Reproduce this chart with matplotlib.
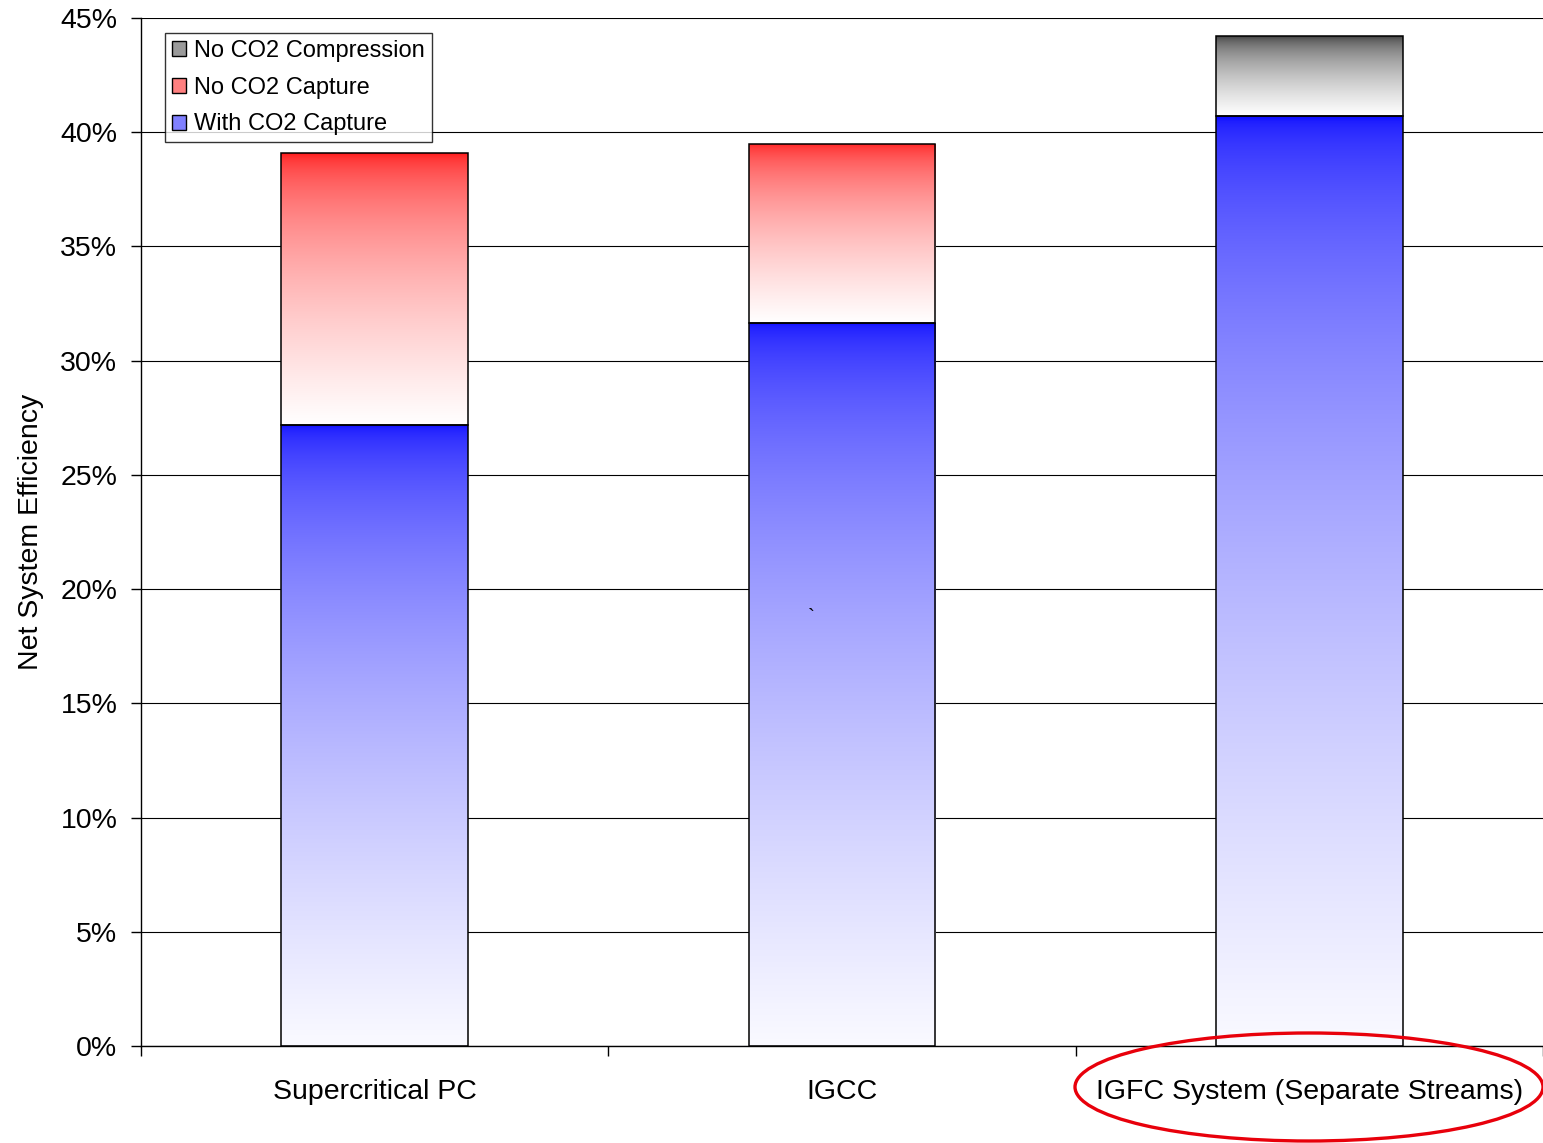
import matplotlib
matplotlib.use("Agg")
import matplotlib.pyplot as plt
import numpy as np
from matplotlib.patches import Patch, Ellipse
from matplotlib.ticker import FixedLocator, FuncFormatter

plt.rcParams["font.family"] = ["Liberation Sans", "DejaVu Sans"]

categories = ["Supercritical PC", "IGCC", "IGFC System (Separate Streams)"]
with_capture = [27.2, 31.65, 40.7]          # % net efficiency, with CO2 capture
no_capture_total = [39.1, 39.5, np.nan]     # % total without CO2 capture
no_compression_total = [np.nan, np.nan, 44.2]  # % total without CO2 compression
series_labels = ["No CO2 Compression", "No CO2 Capture", "With CO2 Capture"]


def gradient(top_rgb, bottom_rgb, n=256, power=0.5):
    t = np.linspace(0, 1, n) ** power
    top = np.array(top_rgb)
    bottom = np.array(bottom_rgb)
    return (top[None, :] * (1 - t[:, None]) + bottom[None, :] * t[:, None])[:, None, :]


BLUE = ((0.06, 0.06, 1.0), (0.98, 0.98, 1.0))
RED = ((1.0, 0.08, 0.08), (1.0, 1.0, 1.0))
BLACK = ((0.2, 0.2, 0.2), (1.0, 1.0, 1.0))

fig = plt.figure(figsize=(15.43, 11.43), dpi=100)
ax = fig.add_axes([141 / 1543, 97 / 1143, 1402 / 1543, 1028 / 1143])

x = np.arange(len(categories)) + 0.5
width = 0.4
segments = []
for i in range(len(categories)):
    segments.append((x[i], 0, with_capture[i], BLUE))
    if not np.isnan(no_capture_total[i]):
        segments.append((x[i], with_capture[i], no_capture_total[i], RED))
    if not np.isnan(no_compression_total[i]):
        segments.append((x[i], with_capture[i], no_compression_total[i], BLACK))

for xc, y0, y1, col in segments:
    bar = ax.bar(xc, y1 - y0, bottom=y0, width=width, facecolor="none",
                 edgecolor="black", linewidth=1.1, zorder=3)[0]
    im = ax.imshow(gradient(*col), extent=[xc - width / 2, xc + width / 2, y0, y1],
                   aspect="auto", origin="upper", zorder=2, interpolation="bilinear")
    im.set_clip_path(bar)

ax.set_xlim(0, 3)
ax.set_ylim(0, 45)

ax.yaxis.set_major_locator(FixedLocator(np.arange(0, 46, 5)))
ax.yaxis.set_major_formatter(FuncFormatter(lambda v, p: f"{v:.0f}%"))
ax.grid(axis="y", color="black", linewidth=0.8, zorder=1)
ax.set_axisbelow(True)

ax.set_xticks([0, 1, 2, 3])
ax.set_xticklabels([])
ax.set_xticks(x, minor=True)
ax.set_xticklabels(categories, minor=True)
ax.tick_params(axis="x", which="major", direction="out", length=7, width=1, color="black")
ax.tick_params(axis="x", which="minor", length=0, pad=24, labelsize=20.5)
ax.tick_params(axis="y", direction="out", length=7, width=1, labelsize=20.5, pad=10)

for side in ["top", "right"]:
    ax.spines[side].set_visible(False)
ax.spines["left"].set_linewidth(1.0)
ax.spines["bottom"].set_linewidth(1.0)

ax.set_ylabel("Net System Efficiency", fontsize=20.5, labelpad=12)

ax.text(1.435, 18.75, "`", fontsize=15, ha="center", va="center")

handles = [
    Patch(facecolor="#9a9a9a", edgecolor="black", linewidth=1.0),
    Patch(facecolor="#ff8080", edgecolor="black", linewidth=1.0),
    Patch(facecolor="#8080ff", edgecolor="black", linewidth=1.0),
]
leg = ax.legend(handles, series_labels, loc="upper left", bbox_to_anchor=(0.0171, 0.9854),
                fontsize=17, frameon=True, fancybox=False, edgecolor="black",
                handlelength=0.6, handleheight=0.6, handletextpad=0.35,
                labelspacing=0.62, borderpad=0.3, borderaxespad=0)
leg.get_frame().set_linewidth(1.0)

ell = Ellipse((1309 / 1543, 56 / 1143), 468 / 1543, 108 / 1143, transform=fig.transFigure,
              fill=False, edgecolor="#e8000b", linewidth=2.4, clip_on=False)
fig.patches.append(ell)

fig.savefig("out.png", dpi=100)
